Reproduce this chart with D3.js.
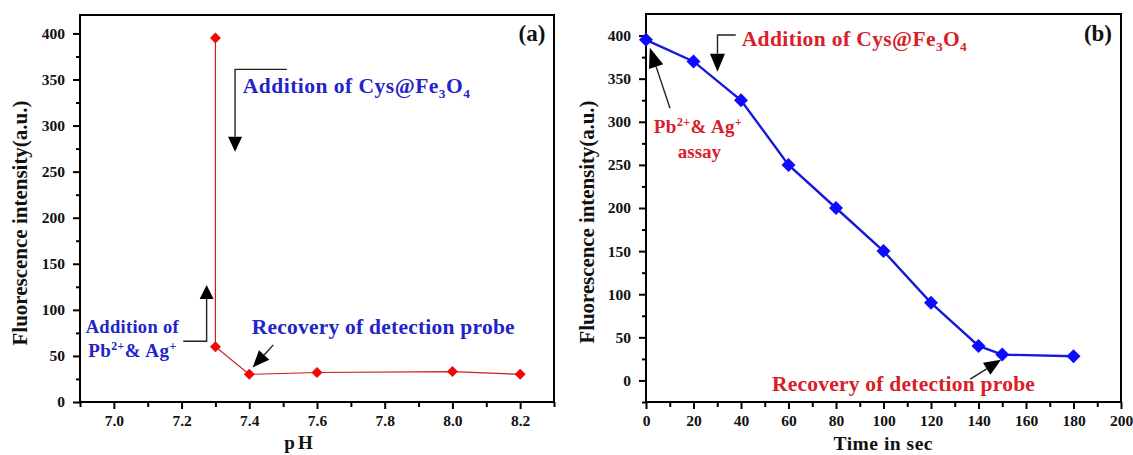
<!DOCTYPE html>
<html>
<head>
<meta charset="utf-8">
<script src="https://cdn.jsdelivr.net/npm/d3@7/dist/d3.min.js"></script>
<style>
  html, body { margin: 0; padding: 0; background: #fff; }
  svg { display: block; }
  text { font-family: "Liberation Serif", "Times New Roman", serif; font-weight: bold; }
</style>
</head>
<body>
<svg id="chart" width="1133" height="455"></svg>
<script>
// ---- data: panel (a), fluorescence vs pH ----
const phValues = [7.3, 7.3, 7.4, 7.6, 8.0, 8.2];
const phIntensity = [395, 60, 30, 32, 33, 30];
const phTicks = [7.0, 7.2, 7.4, 7.6, 7.8, 8.0, 8.2];
const phMinorTicks = [6.9, 7.1, 7.3, 7.5, 7.7, 7.9, 8.1, 8.3];
const intensityTicksA = [0, 50, 100, 150, 200, 250, 300, 350, 400];
const intensityMinorA = [25, 75, 125, 175, 225, 275, 325, 375];

// ---- data: panel (b), fluorescence vs time ----
const timeSec = [0, 20, 40, 60, 80, 100, 120, 140, 150, 180];
const timeIntensity = [395, 370, 325, 250, 200, 150, 90, 40, 30, 28];
const timeTicks = [0, 20, 40, 60, 80, 100, 120, 140, 160, 180, 200];
const timeMinorTicks = [10, 30, 50, 70, 90, 110, 130, 150, 170, 190];
const intensityTicksB = [0, 50, 100, 150, 200, 250, 300, 350, 400];
const intensityMinorB = [-25, 25, 75, 125, 175, 225, 275, 325, 375];

const yLabel = "Fluorescence intensity(a.u.)";

const svg = d3.select("#chart");
const tickFont = 15.5;

function frameAndAxes(g, x, y, xt, xm, xfmt, yt, ym) {
  const [x0, x1] = x.range();
  const [y0, y1] = y.range();
  const xa = g.append("g").attr("transform", `translate(0,${y0})`)
    .call(d3.axisBottom(x).tickValues(xt).tickSize(7).tickPadding(6).tickFormat(d3.format(xfmt)));
  const xb = g.append("g").attr("transform", `translate(0,${y0})`)
    .call(d3.axisBottom(x).tickValues(xm).tickSize(5).tickFormat(""));
  const ya = g.append("g").attr("transform", `translate(${x0},0)`)
    .call(d3.axisLeft(y).tickValues(yt).tickSize(7).tickPadding(8).tickFormat(d3.format("d")));
  const yb = g.append("g").attr("transform", `translate(${x0},0)`)
    .call(d3.axisLeft(y).tickValues(ym).tickSize(4).tickFormat(""));
  [xa, xb, ya, yb].forEach(a => {
    a.select(".domain").remove();
    a.selectAll(".tick line").attr("stroke", "#000").attr("stroke-width", 2);
    a.selectAll(".tick text").attr("fill", "#111").style("font-size", tickFont + "px")
      .style("font-family", '"Liberation Serif", serif').style("font-weight", "bold");
  });
  g.append("rect").attr("x", x0).attr("y", y1).attr("width", x1 - x0).attr("height", y0 - y1)
    .attr("fill", "none").attr("stroke", "#000").attr("stroke-width", 2);
}

// text with sub/superscripts; parts = [[str, "n"|"sub"|"sup"], ...]
function richText(g, px, py, parts, o) {
  const t = g.append("text").attr("x", px).attr("y", py)
    .attr("fill", o.fill).attr("text-anchor", o.anchor || "start")
    .style("font-size", o.size + "px");
  let shift = 0;
  parts.forEach(([s, kind]) => {
    const target = kind === "sub" ? 0.22 * o.size : kind === "sup" ? -0.38 * o.size : 0;
    const ts = t.append("tspan").attr("dy", target - shift).text(s);
    if (kind !== "n") ts.style("font-size", (o.size * 0.62) + "px");
    shift = target;
  });
  if (o.width) t.attr("textLength", o.width).attr("lengthAdjust", "spacing");
  return t;
}

// polyline ending in a filled arrowhead at the last point
function arrow(g, pts, head = 16, half = 7) {
  const n = pts.length;
  const [tx, ty] = pts[n - 1], [px, py] = pts[n - 2];
  const dx = tx - px, dy = ty - py, len = Math.hypot(dx, dy);
  const ux = dx / len, uy = dy / len;
  const bx = tx - ux * head, by = ty - uy * head;
  const line = pts.slice(0, n - 1).concat([[bx, by]]);
  g.append("path").attr("d", d3.line()(line)).attr("fill", "none")
    .attr("stroke", "#222").attr("stroke-width", 1.4);
  g.append("path")
    .attr("d", d3.line()([[tx, ty], [bx - uy * half, by + ux * half], [bx + uy * half, by - ux * half]]) + "Z")
    .attr("fill", "#000");
}

function diamond(r) {
  return `M0,${-r}L${r},0L0,${r}L${-r},0Z`;
}

// ================= panel (a) =================
{
  const x = d3.scaleLinear().domain([6.9, 8.3]).range([80, 554]);
  const y = d3.scaleLinear().domain([0, 420]).range([402, 15]);
  const g = svg.append("g");
  frameAndAxes(g, x, y, phTicks, phMinorTicks, ".1f", intensityTicksA, intensityMinorA);

  const pts = phValues.map((v, i) => [v, phIntensity[i]]);
  g.append("path").datum(pts)
    .attr("d", d3.line().x(d => x(d[0])).y(d => y(d[1])))
    .attr("fill", "none").attr("stroke", "#cc1c1c").attr("stroke-width", 1.2);
  g.selectAll(".mk").data(pts).join("path")
    .attr("transform", d => `translate(${x(d[0])},${y(d[1])})`)
    .attr("d", diamond(5.5)).attr("fill", "#ee0a0a");

  const blue = "#2323c8";
  arrow(g, [[x(7.511), y(361)], [x(7.358), y(361)], [x(7.358), y(271.5)]], 15, 7);
  richText(g, x(7.381), y(335), [["Addition of Cys@Fe", "n"], ["3", "sub"], ["O", "n"], ["4", "sub"]],
    { size: 21.5, fill: blue, width: 227 });

  arrow(g, [[x(7.205), y(66)], [x(7.274), y(66)], [x(7.274), y(127)]], 14, 7);
  richText(g, x(7.054), y(75), [["Addition of", "n"]], { size: 18.5, fill: blue, anchor: "middle", width: 93 });
  richText(g, x(7.054), y(49), [["Pb", "n"], ["2+", "sup"], ["& Ag", "n"], ["+", "sup"]],
    { size: 19, fill: blue, anchor: "middle", width: 88 });

  arrow(g, [[x(7.471), y(62)], [x(7.410), y(37.5)]], 17, 7);
  richText(g, x(7.407), y(74), [["Recovery of detection probe", "n"]], { size: 21.5, fill: blue, width: 263 });

  g.append("text").attr("x", x(8.235)).attr("y", y(391.5)).attr("text-anchor", "middle")
    .style("font-size", "23px").attr("fill", "#111").text("(a)");

  g.append("text").attr("transform", "translate(27,223) rotate(-90)").attr("text-anchor", "middle")
    .attr("textLength", 245).attr("lengthAdjust", "spacing")
    .style("font-size", "21px").attr("fill", "#111").text(yLabel);
  g.append("text").attr("x", 300).attr("y", 449).attr("text-anchor", "middle")
    .style("font-size", "19px").style("letter-spacing", "3px").attr("fill", "#111").text("pH");
}

// ================= panel (b) =================
{
  const x = d3.scaleLinear().domain([0, 200]).range([646, 1121]);
  const y = d3.scaleLinear().domain([-25, 425]).range([402, 14]);
  const g = svg.append("g");
  frameAndAxes(g, x, y, timeTicks, timeMinorTicks, "d", intensityTicksB, intensityMinorB);

  const pts = timeSec.map((v, i) => [v, timeIntensity[i]]);
  g.append("path").datum(pts)
    .attr("d", d3.line().x(d => x(d[0])).y(d => y(d[1])))
    .attr("fill", "none").attr("stroke", "#1818d8").attr("stroke-width", 2.4);
  g.selectAll(".mk").data(pts).join("path")
    .attr("transform", d => `translate(${x(d[0])},${y(d[1])})`)
    .attr("d", diamond(7)).attr("fill", "#0c0cff");

  const red = "#d8202a";
  arrow(g, [[x(37.8), y(400.7)], [x(30.1), y(400.7)], [x(30.1), y(358)]], 18, 7.5);
  richText(g, x(40.3), y(388), [["Addition of Cys@Fe", "n"], ["3", "sub"], ["O", "n"], ["4", "sub"]],
    { size: 21.5, fill: red, width: 225 });

  arrow(g, [[x(10.1), y(315.6)], [x(1.6), y(386)]], 20, 7.5);
  richText(g, x(21.8), y(287), [["Pb", "n"], ["2+", "sup"], ["& Ag", "n"], ["+", "sup"]],
    { size: 19, fill: red, anchor: "middle", width: 88 });
  richText(g, x(22.5), y(257.5), [["assay", "n"]], { size: 19, fill: red, anchor: "middle" });

  arrow(g, [[x(136.5), y(1.5)], [x(149.5), y(24)]], 17, 7);
  richText(g, x(53), y(-12), [["Recovery of detection probe", "n"]], { size: 21.5, fill: red, width: 263 });

  g.append("text").attr("x", x(190.3)).attr("y", y(393.5)).attr("text-anchor", "middle")
    .style("font-size", "23px").attr("fill", "#111").text("(b)");

  g.append("text").attr("transform", "translate(594,222) rotate(-90)").attr("text-anchor", "middle")
    .attr("textLength", 243).attr("lengthAdjust", "spacing")
    .style("font-size", "21px").attr("fill", "#111").text(yLabel);
  g.append("text").attr("x", 883).attr("y", 450).attr("text-anchor", "middle")
    .attr("textLength", 99).attr("lengthAdjust", "spacing")
    .style("font-size", "19.5px").attr("fill", "#111").text("Time in sec");
}
</script>
</body>
</html>
